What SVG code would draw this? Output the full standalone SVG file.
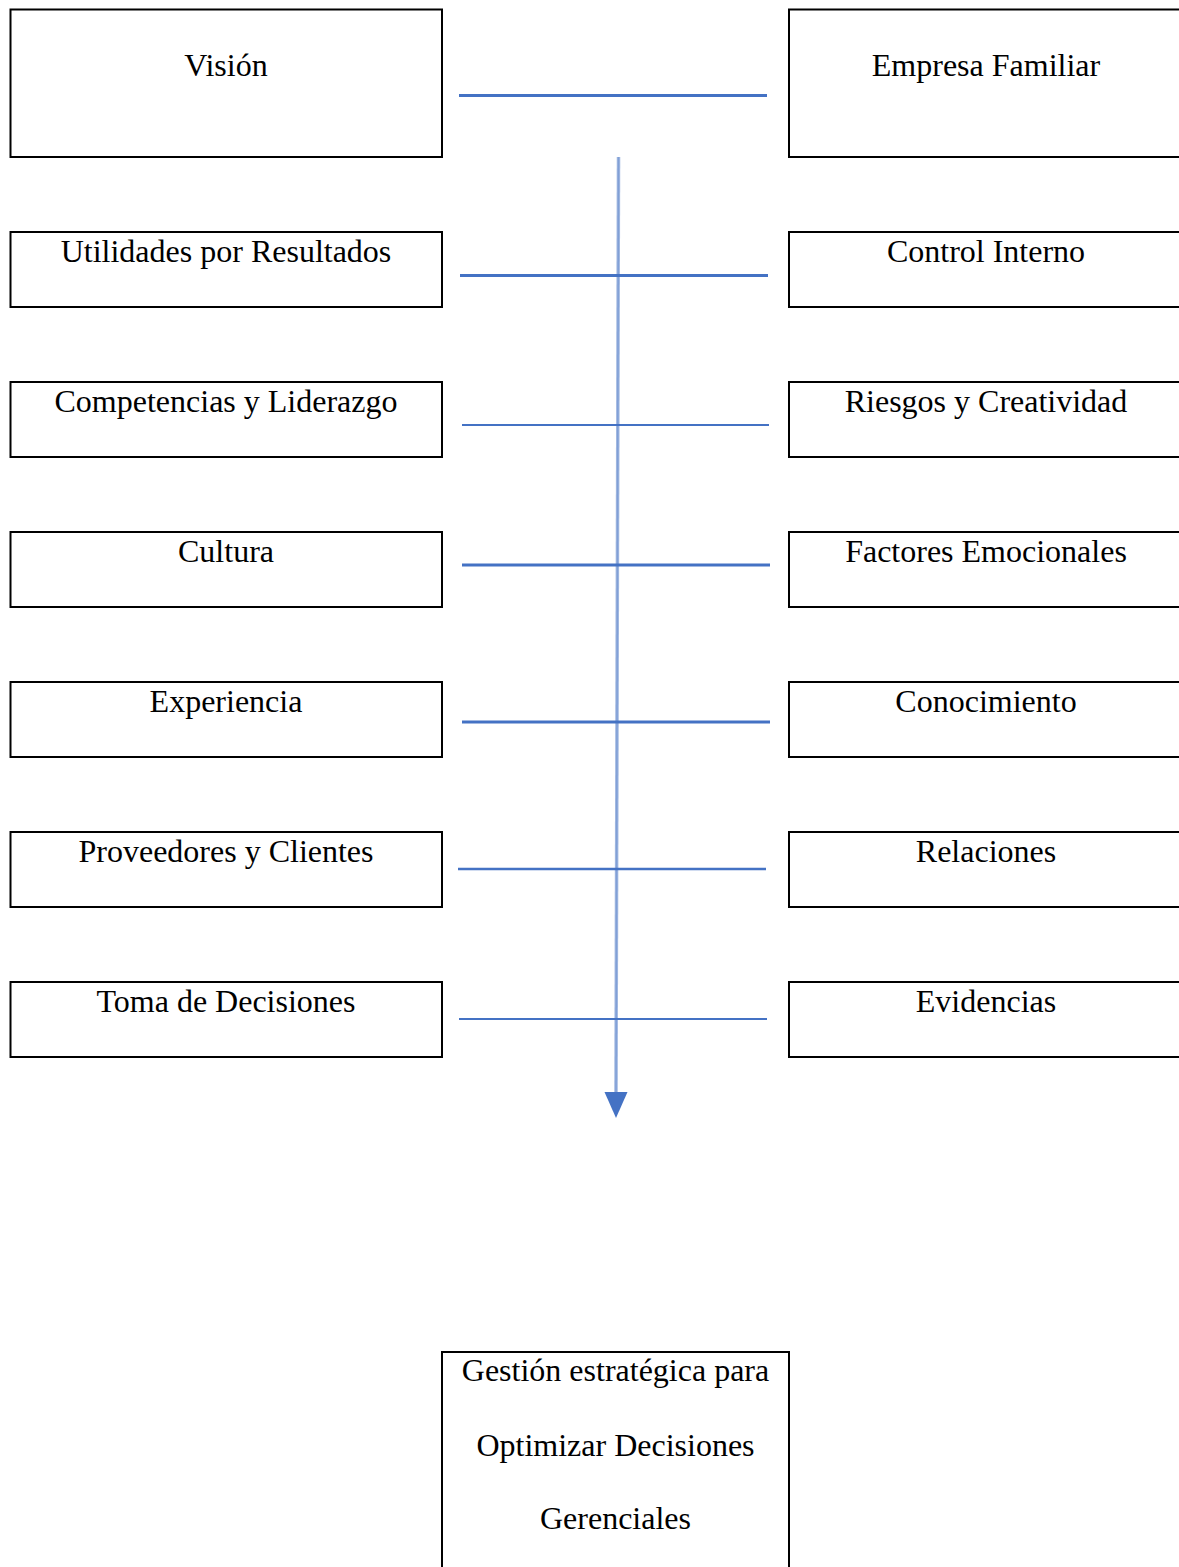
<svg xmlns="http://www.w3.org/2000/svg" width="1179" height="1567" viewBox="0 0 1179 1567">
  <style>
    .box { fill: #ffffff; stroke: #000000; stroke-width: 2; }
    .lbl { font-family: "Liberation Serif", "Times New Roman", serif; font-size: 32px; fill: #000000; text-anchor: middle; }
    .link { stroke: #4472c4; fill: none; }
  </style>

  <rect width="1179" height="1567" fill="#ffffff"/>

  <!-- connectors -->
  <g id="connectors">
    <line class="link" x1="459" y1="95.5" x2="767" y2="95.5" stroke-width="3"/>
    <line class="link" x1="460" y1="275.5" x2="768" y2="275.5" stroke-width="3"/>
    <line class="link" x1="462" y1="425" x2="769" y2="425" stroke-width="1.8"/>
    <line class="link" x1="462" y1="565" x2="770" y2="565" stroke-width="3.2"/>
    <line class="link" x1="462" y1="722" x2="770" y2="722" stroke-width="2.8"/>
    <line class="link" x1="458" y1="869" x2="766" y2="869" stroke-width="2.6"/>
    <line class="link" x1="459" y1="1019" x2="767" y2="1019" stroke-width="1.8"/>
    <!-- main vertical flow arrow -->
    <line x1="618.5" y1="157" x2="616" y2="1092" stroke="#4472c4" stroke-opacity="0.5" stroke-width="3.5"/>
    <line x1="618.5" y1="157" x2="616" y2="1092" stroke="#4472c4" stroke-opacity="0.35" stroke-width="1.5"/>
    <path d="M604.5,1092 L627.5,1092 L616,1118 Z" fill="#4472c4"/>
  </g>

  <!-- left column -->
  <g id="node-vision"><rect class="box" x="10.5" y="9.5" width="431.5" height="147.5"/><text class="lbl" x="226" y="76">Visión</text></g>
  <g id="node-utilidades"><rect class="box" x="10.5" y="232" width="431.5" height="75"/><text class="lbl" x="226" y="262">Utilidades por Resultados</text></g>
  <g id="node-competencias"><rect class="box" x="10.5" y="382" width="431.5" height="75"/><text class="lbl" x="226" y="412">Competencias y Liderazgo</text></g>
  <g id="node-cultura"><rect class="box" x="10.5" y="532" width="431.5" height="75"/><text class="lbl" x="226" y="562">Cultura</text></g>
  <g id="node-experiencia"><rect class="box" x="10.5" y="682" width="431.5" height="75"/><text class="lbl" x="226" y="712">Experiencia</text></g>
  <g id="node-proveedores"><rect class="box" x="10.5" y="832" width="431.5" height="75"/><text class="lbl" x="226" y="862">Proveedores y Clientes</text></g>
  <g id="node-toma"><rect class="box" x="10.5" y="982" width="431.5" height="75"/><text class="lbl" x="226" y="1012">Toma de Decisiones</text></g>

  <!-- right column -->
  <g id="node-empresa"><rect class="box" x="789" y="9.5" width="400" height="147.5"/><text class="lbl" x="986" y="76">Empresa Familiar</text></g>
  <g id="node-control"><rect class="box" x="789" y="232" width="400" height="75"/><text class="lbl" x="986" y="262">Control Interno</text></g>
  <g id="node-riesgos"><rect class="box" x="789" y="382" width="400" height="75"/><text class="lbl" x="986" y="412">Riesgos y Creatividad</text></g>
  <g id="node-factores"><rect class="box" x="789" y="532" width="400" height="75"/><text class="lbl" x="986" y="562">Factores Emocionales</text></g>
  <g id="node-conocimiento"><rect class="box" x="789" y="682" width="400" height="75"/><text class="lbl" x="986" y="712">Conocimiento</text></g>
  <g id="node-relaciones"><rect class="box" x="789" y="832" width="400" height="75"/><text class="lbl" x="986" y="862">Relaciones</text></g>
  <g id="node-evidencias"><rect class="box" x="789" y="982" width="400" height="75"/><text class="lbl" x="986" y="1012">Evidencias</text></g>

  <!-- outcome -->
  <g id="node-gestion">
    <rect class="box" x="442" y="1352" width="347" height="240"/>
    <text class="lbl" x="615.5" y="1381">Gestión estratégica para</text>
    <text class="lbl" x="615.5" y="1456">Optimizar Decisiones</text>
    <text class="lbl" x="615.5" y="1529">Gerenciales</text>
  </g>
</svg>
